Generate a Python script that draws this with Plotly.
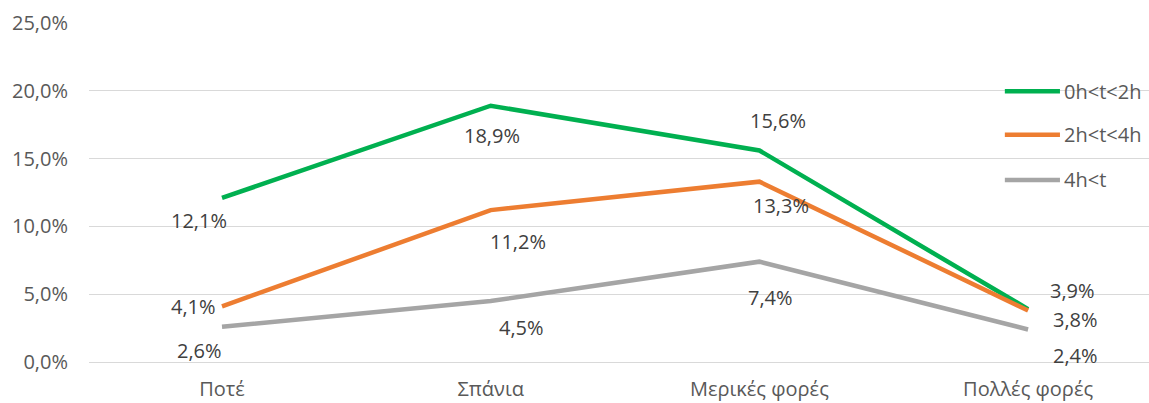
import plotly.graph_objects as go

# Categories and series (percent)
categories = ["Ποτέ", "Σπάνια", "Μερικές φορές", "Πολλές φορές"]
series_names = ["0h<t<2h", "2h<t<4h", "4h<t"]
green_vals = [12.1, 18.9, 15.6, 3.9]
orange_vals = [4.1, 11.2, 13.3, 3.8]
gray_vals = [2.6, 4.5, 7.4, 2.4]
y_ticks = [0, 5, 10, 15, 20, 25]


def pct(v):
    return f"{v:.1f}%".replace(".", ",")


colors = ["#00B050", "#ED7D31", "#A5A5A5"]
all_vals = [green_vals, orange_vals, gray_vals]

# pixel offsets of each data label from its point (x right, y up)
label_offsets = [
    [(-23, -23), (1, -30), (19, 30), (44, 19)],
    [(-29, 0), (27, -31), (22, -24), (47, -9)],
    [(-23, -24), (31, -27), (11, -36), (47, -26)],
]

FONT = "Open Sans"
FS = 20
fig = go.Figure()
annotations = []
shapes = []

for name, vals, col, offs in zip(series_names, all_vals, colors, label_offsets):
    fig.add_trace(go.Scatter(
        x=categories, y=vals, mode="lines", name=name,
        line=dict(color=col, width=4.5), showlegend=False,
    ))
    for cat, v, (dx, dy) in zip(categories, vals, offs):
        annotations.append(dict(
            x=cat, y=v, xref="x", yref="y",
            text=pct(v),
            showarrow=False, xshift=dx, yshift=dy,
            font=dict(family=FONT, size=FS, color="#404040"),
        ))

# legend drawn at the right side of the plot area
legend_rows = [0.799, 0.670, 0.537]
for name, col, yy in zip(series_names, colors, legend_rows):
    shapes.append(dict(
        type="line", xref="paper", yref="paper",
        x0=0.864, x1=0.916, y0=yy, y1=yy,
        line=dict(color=col, width=4.5),
    ))
    annotations.append(dict(
        x=0.918, y=yy, xref="paper", yref="paper",
        xanchor="left", yanchor="middle", text=name, showarrow=False,
        font=dict(family=FONT, size=FS, color="#595959"),
    ))

fig.update_layout(
    width=1149, height=403,
    margin=dict(l=89, r=0, t=23, b=41),
    paper_bgcolor="white", plot_bgcolor="white",
    annotations=annotations, shapes=shapes,
    font=dict(family=FONT, size=FS, color="#595959"),
)
fig.update_xaxes(
    type="category", range=[-0.495, 3.45],
    showgrid=False, zeroline=False, showline=False, ticks="",
    ticklabelstandoff=13, automargin=False,
    tickfont=dict(family=FONT, size=FS, color="#595959"),
)
fig.update_yaxes(
    range=[0, 25], tickvals=y_ticks, ticktext=[pct(t) for t in y_ticks],
    showgrid=True, gridcolor="#D9D9D9", gridwidth=1.3,
    zeroline=True, zerolinecolor="#D9D9D9", zerolinewidth=1.3,
    showline=False, ticks="", ticklabelstandoff=20, automargin=False,
    tickfont=dict(family=FONT, size=FS, color="#595959"),
)

fig.write_html("out.html")
